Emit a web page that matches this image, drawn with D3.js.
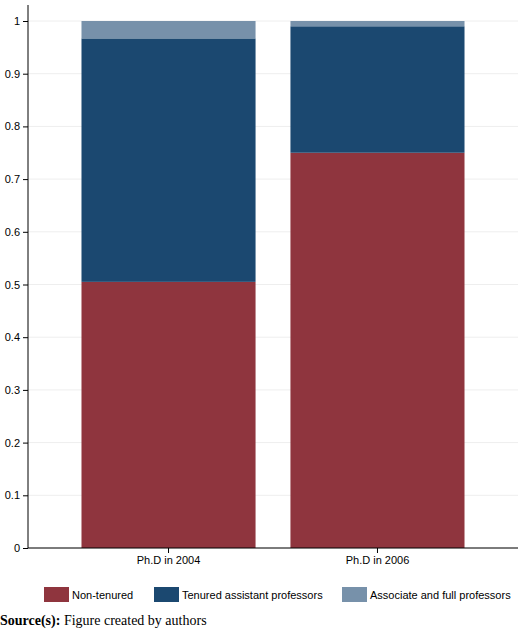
<!DOCTYPE html><html><head><script src="https://cdn.jsdelivr.net/npm/d3@7"></script>
<style>body{margin:0;background:#fff;font-family:Arial,"Liberation Sans",sans-serif}</style></head><body><svg id="c" width="520" height="633"></svg>
<script>
const categories=["Ph.D in 2004","Ph.D in 2006"];
const nonTenured=[0.505,0.750];
const tenuredAssistant=[0.462,0.240];
const associateFull=[0.033,0.010];
const yTicks=[0,0.1,0.2,0.3,0.4,0.5,0.6,0.7,0.8,0.9,1];
const seriesNames=["Non-tenured","Tenured assistant professors","Associate and full professors"];
const colors=["#8f353e","#1b4870","#7791aa"];
const svg=d3.select("#c");
const x=d3.scaleBand().domain(categories).range([28,518]).paddingInner(0.167).paddingOuter(0.256);
const y=d3.scaleLinear().domain([0,1]).range([548,21]);
svg.append("g").selectAll("line").data(yTicks).join("line").attr("x1",28).attr("x2",518).attr("y1",d=>y(d)).attr("y2",d=>y(d)).attr("stroke","#eeeeee");
const series=[nonTenured,tenuredAssistant,associateFull];
categories.forEach((c,i)=>{let base=0;series.forEach((s,k)=>{svg.append("rect").attr("x",x(c)).attr("width",x.bandwidth()).attr("y",y(base+s[i])).attr("height",y(base)-y(base+s[i])).attr("fill",colors[k]);base+=s[i];});});
const ya=svg.append("g").attr("transform","translate(28,0)").call(d3.axisLeft(y).tickValues(yTicks).tickFormat(d3.format("~g")).tickSize(5));
ya.select(".domain").attr("d","M0,5V548");
ya.selectAll("text").attr("font-size",11).attr("fill","#000");
const xa=svg.append("g").attr("transform","translate(0,548)").call(d3.axisBottom(x).tickSize(5));
xa.select(".domain").attr("d","M28,0H518");
xa.selectAll("text").attr("font-size",11).attr("fill","#000");
const lx=[44,154,342];
seriesNames.forEach((n,k)=>{svg.append("rect").attr("x",lx[k]).attr("y",587).attr("width",25).attr("height",15).attr("fill",colors[k]);svg.append("text").attr("x",lx[k]+28).attr("y",599).attr("font-size",11).text(n);});
const t=svg.append("text").attr("x",0).attr("y",625).attr("font-family","Liberation Serif,Times New Roman,serif").attr("font-size",14);
t.append("tspan").attr("font-weight","bold").text("Source(s):");
t.append("tspan").text(" Figure created by authors");
</script></body></html>
